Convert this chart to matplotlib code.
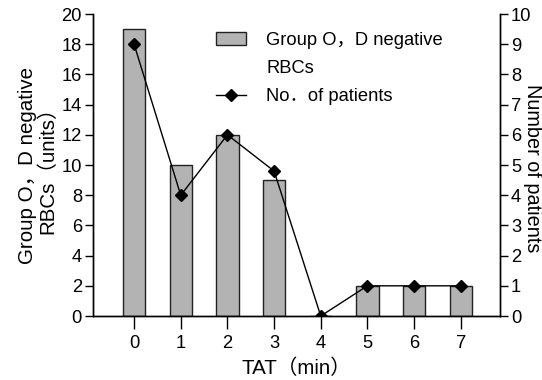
import numpy as np
import matplotlib
matplotlib.use('Agg')
import matplotlib.pyplot as plt
from matplotlib.patches import Rectangle

plt.rcParams['font.family'] = ['Liberation Sans', 'Noto Sans CJK SC', 'DejaVu Sans']
plt.rcParams['font.size'] = 13

# data
tat = [0, 1, 2, 3, 4, 5, 6, 7]
rbc_units = [19, 10, 12, 9, 0, 2, 2, 2]
patients = [9, 4, 6, 4.8, 0, 1, 1, 1]
left_ticks = list(range(0, 21, 2))
right_ticks = list(range(0, 11))

fs = 13.2
lab_fs = 14.8

fig = plt.figure(figsize=(5.42, 3.80), dpi=100)
ax = fig.add_axes([0.1716, 0.1684, 0.7509, 0.7946])
ax2 = ax.twinx()

bars = ax.bar(tat, rbc_units, width=0.48, color='#b3b3b3', edgecolor='#222222',
              linewidth=1.0)
line, = ax2.plot(tat, patients, color='black', linewidth=1.0, marker='D',
                 markersize=6)

ax.set_xlim(-0.88, 7.84)
ax.set_ylim(0, 20)
ax2.set_ylim(0, 10)
ax.set_xticks(tat)
ax.set_yticks(left_ticks)
ax2.set_yticks(right_ticks)

for a in (ax, ax2):
    a.spines['top'].set_visible(False)
    for s in a.spines.values():
        s.set_linewidth(1.0)
    a.tick_params(axis='y', direction='out', length=6, width=1.0, labelsize=fs, pad=2)
ax.tick_params(axis='x', direction='out', length=9, width=1.0, labelsize=fs, pad=5)

ax.set_xlabel('TAT（min）', fontsize=lab_fs, labelpad=4)
ax.set_ylabel('Group O，D negative\nRBCs（units）', fontsize=lab_fs, labelpad=3,
              linespacing=1.05)
ax2.set_ylabel('Number of patients', fontsize=14.3, rotation=-90, va='center')
ax2.yaxis.set_label_coords(1.079, 0.49)

# legend: the bar patch sits next to the first text line only
blank = Rectangle((0, 0), 1, 1, fill=False, edgecolor='none', visible=False)
leg = ax2.legend([bars, blank, line],
                 ['Group O，D negative', 'RBCs', 'No．of patients'],
                 loc='upper left', bbox_to_anchor=(0.385, 0.935),
                 bbox_transform=fig.transFigure, frameon=False, fontsize=fs,
                 handlelength=1.65, handletextpad=1.1, labelspacing=0.6,
                 numpoints=1, borderaxespad=0)

fig.savefig('out.png', dpi=100)
